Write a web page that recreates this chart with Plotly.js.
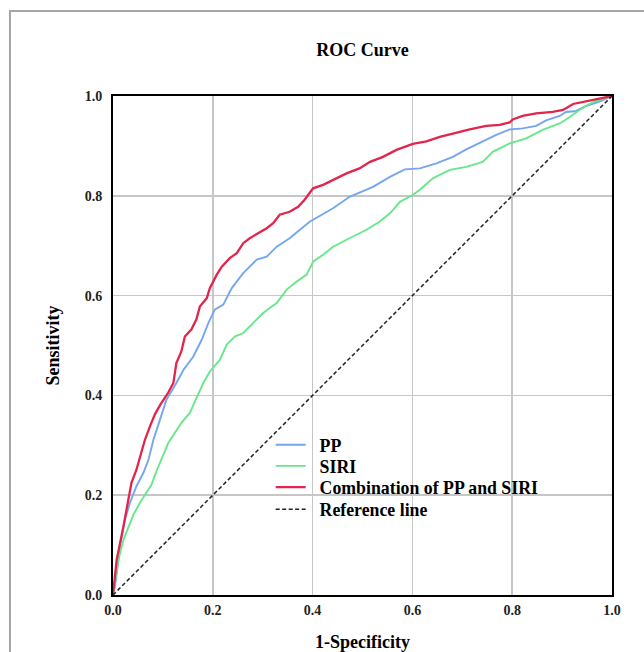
<!DOCTYPE html>
<html>
<head>
<meta charset="utf-8">
<script src="https://cdn.plot.ly/plotly-3.0.1.min.js"></script>
<style>
  html, body { margin: 0; padding: 0; background: #fff; }
  #wrap { position: relative; width: 644px; height: 652px; overflow: hidden; }
  #frame { position: absolute; left: 9px; top: 10px; width: 700px; height: 700px;
           border-top: 2px solid #a6a6a6; border-left: 2px solid #a6a6a6; pointer-events: none; }
  #chart { position: absolute; left: 0; top: 0; width: 644px; height: 652px; }
</style>
</head>
<body>
<div id="wrap">
  <div id="chart"></div>
  <div id="frame"></div>
</div>
<script>
// ---- data ----
const ppX = [0,0.004,0.011,0.014,0.024,0.034,0.047,0.061,0.071,0.081,0.094,0.107,0.127,0.141,0.161,0.178,0.191,0.204,0.221,0.238,0.261,0.288,0.308,0.328,0.354,0.374,0.394,0.441,0.474,0.521,0.555,0.585,0.615,0.648,0.681,0.708,0.741,0.768,0.795,0.821,0.848,0.868,0.895,0.908,0.928,0.948,0.975,1];
const ppY = [0,0.018,0.071,0.098,0.151,0.185,0.218,0.245,0.271,0.311,0.351,0.391,0.425,0.451,0.478,0.512,0.545,0.572,0.582,0.615,0.645,0.672,0.678,0.698,0.715,0.732,0.748,0.775,0.798,0.818,0.838,0.853,0.855,0.865,0.878,0.893,0.909,0.922,0.933,0.935,0.940,0.951,0.960,0.968,0.970,0.980,0.989,1];

const siriX = [0,0.011,0.021,0.031,0.041,0.054,0.067,0.077,0.087,0.097,0.111,0.124,0.137,0.154,0.171,0.181,0.194,0.214,0.228,0.244,0.261,0.281,0.301,0.314,0.328,0.348,0.368,0.388,0.401,0.421,0.441,0.474,0.508,0.534,0.555,0.575,0.601,0.615,0.641,0.675,0.708,0.741,0.761,0.795,0.828,0.861,0.895,0.908,0.915,0.935,0.955,0.968,1];
const siriY = [0,0.071,0.111,0.138,0.161,0.185,0.205,0.221,0.248,0.271,0.305,0.325,0.345,0.365,0.405,0.425,0.448,0.471,0.502,0.518,0.525,0.545,0.565,0.575,0.585,0.612,0.628,0.642,0.668,0.682,0.698,0.715,0.732,0.748,0.765,0.788,0.802,0.812,0.835,0.852,0.858,0.868,0.888,0.905,0.915,0.932,0.945,0.953,0.958,0.972,0.984,0.990,1];

const combX = [0,0.0074,0.021,0.027,0.037,0.047,0.057,0.064,0.074,0.084,0.094,0.101,0.111,0.121,0.127,0.137,0.144,0.157,0.167,0.174,0.188,0.194,0.208,0.218,0.234,0.248,0.261,0.274,0.291,0.308,0.321,0.334,0.354,0.371,0.384,0.401,0.421,0.441,0.468,0.494,0.515,0.541,0.568,0.601,0.628,0.655,0.688,0.715,0.748,0.775,0.795,0.801,0.821,0.848,0.881,0.902,0.922,0.948,0.975,1];
const combY = [0,0.071,0.138,0.171,0.225,0.251,0.285,0.311,0.338,0.362,0.380,0.390,0.406,0.425,0.465,0.488,0.518,0.532,0.552,0.578,0.595,0.615,0.642,0.658,0.675,0.685,0.705,0.715,0.725,0.735,0.745,0.762,0.768,0.778,0.792,0.815,0.822,0.832,0.845,0.855,0.868,0.878,0.892,0.904,0.909,0.918,0.927,0.933,0.940,0.942,0.947,0.953,0.960,0.965,0.968,0.972,0.984,0.989,0.995,1];

const refX = [0, 1];
const refY = [0, 1];

const seriesNames = ['PP', 'SIRI', 'Combination of PP and SIRI', 'Reference line'];
const tickVals = [0, 0.2, 0.4, 0.6, 0.8, 1.0];
const tickText = ['0.0', '0.2', '0.4', '0.6', '0.8', '1.0'];

// ---- chart ----
const serif = '"Liberation Serif", "Times New Roman", Times, serif';
const pad = '\u00a0\u00a0';

const traces = [
  {x: ppX, y: ppY, mode: 'lines', name: pad + seriesNames[0], legend: 'legend',
   line: {color: '#74a6f0', width: 1.9}},
  {x: siriX, y: siriY, mode: 'lines', name: pad + seriesNames[1], legend: 'legend2',
   line: {color: '#66e88a', width: 1.9}},
  {x: combX, y: combY, mode: 'lines', name: pad + seriesNames[2], legend: 'legend3',
   line: {color: '#e2254b', width: 2.3}},
  {x: refX, y: refY, mode: 'lines', name: pad + seriesNames[3], legend: 'legend4',
   line: {color: '#222222', width: 1.5, dash: '4px,2.5px'}}
];

function leg(y) {
  return {x: 0.316, y: y, xanchor: 'left', yanchor: 'middle', bgcolor: 'rgba(0,0,0,0)',
          borderwidth: 0, font: {family: serif, size: 17.8, color: '#000', weight: 'bold'}};
}

const axisCommon = {
  range: [0, 1], tickvals: tickVals, ticktext: tickText,
  showgrid: true, gridcolor: '#c6c6c6', gridwidth: 1.5,
  showline: true, linecolor: '#000', linewidth: 2, mirror: true,
  zeroline: false, ticks: 'outside', ticklen: 6, tickcolor: 'rgba(0,0,0,0)',
  tickfont: {family: serif, size: 14, color: '#222', weight: 'bold'},
  fixedrange: true
};

const layout = {
  width: 644, height: 652,
  margin: {l: 113, r: 32, t: 96, b: 57},
  paper_bgcolor: '#fff', plot_bgcolor: '#fff',
  font: {family: serif},
  title: {text: 'ROC Curve', x: 0.563, xanchor: 'center', y: 0.924, yanchor: 'middle',
          font: {family: serif, size: 18, color: '#000', weight: 'bold'}},
  xaxis: Object.assign({}, axisCommon, {
    ticklen: 1,
    title: {text: '1-Specificity', standoff: 34,
            font: {family: serif, size: 18, color: '#000', weight: 'bold'}}
  }),
  yaxis: Object.assign({}, axisCommon, {
    title: {text: 'Sensitivity', standoff: 20,
            font: {family: serif, size: 18, color: '#000', weight: 'bold'}}
  }),
  showlegend: true,
  legend: leg(0.3003),
  legend2: leg(0.258),
  legend3: leg(0.2152),
  legend4: leg(0.1712)
};

Plotly.newPlot('chart', traces, layout, {displayModeBar: false, staticPlot: true});
</script>
</body>
</html>
